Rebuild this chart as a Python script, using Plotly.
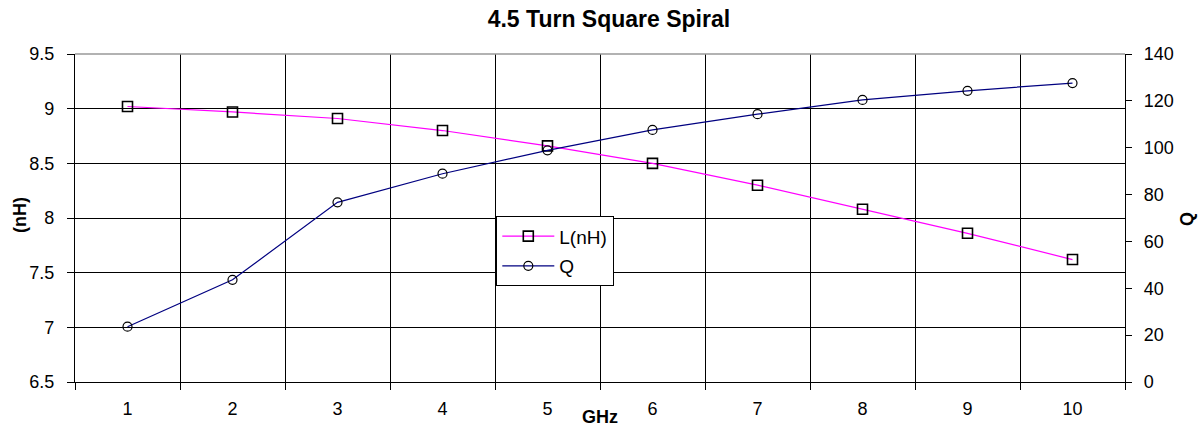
import plotly.graph_objects as go

freq_ghz = ["1", "2", "3", "4", "5", "6", "7", "8", "9", "10"]
inductance_nh = [9.02, 8.97, 8.91, 8.80, 8.66, 8.50, 8.30, 8.08, 7.86, 7.62]
quality_q = [23.6, 43.6, 76.7, 88.9, 98.9, 107.6, 114.3, 120.4, 124.3, 127.6]

FONT = "Liberation Sans, Arial, sans-serif"
L_PX, R_PX, T_PX, B_PX = 75, 76, 54, 45
PW, PH = 1201 - L_PX - R_PX, 427 - T_PX - B_PX

fig = go.Figure()
fig.add_trace(go.Scatter(
    x=freq_ghz, y=inductance_nh, name="L(nH)", mode="lines+markers",
    legendgroup="a",
    line=dict(color="#FF00FF", width=1.2),
    marker=dict(symbol="square-open", color="black", size=10, line=dict(width=1.6)),
    yaxis="y",
))
fig.add_trace(go.Scatter(
    x=freq_ghz, y=quality_q, name="Q", mode="lines+markers",
    legendgroup="b",
    line=dict(color="#000080", width=1.2),
    marker=dict(symbol="circle-open", color="black", size=9, line=dict(width=1.2)),
    yaxis="y2",
))

fig.update_layout(
    width=1201, height=427,
    margin=dict(l=L_PX, r=R_PX, t=T_PX, b=B_PX, autoexpand=False),
    paper_bgcolor="white", plot_bgcolor="white",
    font=dict(family=FONT, size=18, color="black"),
    title=dict(text="<b>4.5 Turn Square Spiral</b>", x=0.507, xanchor="center",
               xref="container", yref="container",
               y=1 - 19 / 427, yanchor="middle", font=dict(size=23, family=FONT)),
    showlegend=True,
    legend=dict(x=(496 - L_PX) / PW, y=(427 - B_PX - 216) / PH,
                xanchor="left", yanchor="top",
                bordercolor="black", borderwidth=1.3, bgcolor="white",
                font=dict(size=19, family=FONT), itemwidth=52,
                traceorder="grouped", tracegroupgap=2),
    xaxis=dict(
        type="category", tickson="boundaries", showgrid=True,
        gridcolor="black", gridwidth=1.3,
        ticks="outside", ticklen=7, tickcolor="black", tickwidth=1.3,
        showline=True, linecolor="black", linewidth=1.3,
        tickfont=dict(size=18), ticklabelstandoff=10,
        range=[-0.5, 9.5],
    ),
    yaxis=dict(
        range=[6.5, 9.5], dtick=0.5, tick0=6.5, showgrid=True,
        gridcolor="black", gridwidth=1.3,
        ticks="outside", ticklen=7, tickcolor="black", tickwidth=1.3,
        showline=True, linecolor="black", linewidth=1.3,
        zeroline=False, tickfont=dict(size=18), ticklabelstandoff=9,
    ),
    yaxis2=dict(
        range=[0, 140], dtick=20, overlaying="y", side="right",
        showgrid=False, zeroline=False,
        ticks="outside", ticklen=6, tickcolor="black", tickwidth=1.3,
        showline=True, linecolor="black", linewidth=1.3,
        tickfont=dict(size=18), ticklabelstandoff=8,
    ),
    shapes=[
        dict(type="line", xref="paper", yref="paper", x0=0, x1=1, y0=1, y1=1,
             line=dict(color="#999999", width=1.5), layer="above"),
    ],
    annotations=[
        dict(text="<b>GHz</b>", xref="paper", yref="paper",
             x=(600 - L_PX) / PW, y=-(417 - 382) / PH, xanchor="center", yanchor="middle",
             showarrow=False, font=dict(size=18, family=FONT)),
        dict(text="<b>(nH)</b>", xref="paper", yref="paper", textangle=-90,
             x=-(L_PX - 20) / PW, y=(382 - 215) / PH, xanchor="center", yanchor="middle",
             showarrow=False, font=dict(size=18, family=FONT)),
        dict(text="<b>Q</b>", xref="paper", yref="paper", textangle=-90,
             x=1 + (1187 - 1125) / PW, y=(382 - 219) / PH, xanchor="center", yanchor="middle",
             showarrow=False, font=dict(size=18, family=FONT)),
    ],
)

fig.write_html("out.html", config={"displayModeBar": False},
               post_script="document.body.style.margin='0';")
